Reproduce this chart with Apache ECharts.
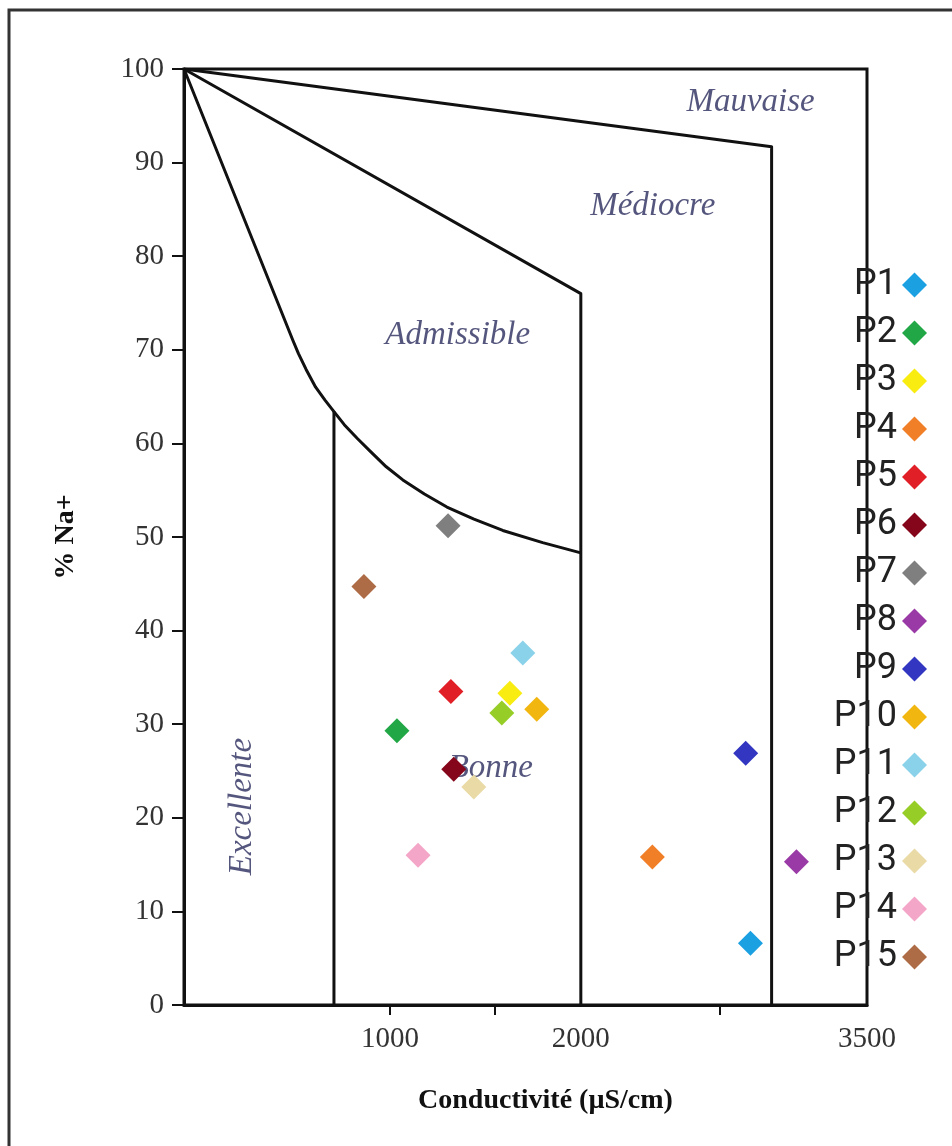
<!DOCTYPE html>
<html>
<head>
<meta charset="utf-8">
<script src="https://cdn.jsdelivr.net/npm/echarts@6/dist/echarts.min.js"></script>
<style>
  html, body { margin: 0; padding: 0; background: #ffffff; }
  #chart { width: 952px; height: 1146px; }
</style>
</head>
<body>
<div id="chart"></div>
<script>
// ---- sample data ----
const samples = ['P1','P2','P3','P4','P5','P6','P7','P8','P9','P10','P11','P12','P13','P14','P15'];
const conductivity = [2889, 1036, 1628, 2375, 1319, 1334, 1304, 3130, 2864, 1769, 1696, 1586, 1439, 1147, 863];
const sodiumPct = [6.6, 29.3, 33.3, 15.8, 33.5, 25.2, 51.2, 15.3, 26.9, 31.6, 37.6, 31.2, 23.3, 16.0, 44.7];
const sampleColors = ['#1ba0e2','#22a747','#f8ec10','#f07f28','#e01f26','#85061a','#7f7f7f','#9a3aa6',
                      '#3236c0','#f2b610','#8ad2ea','#97cd27','#eadaa6','#f4a6c8','#ae6c46'];

// ---- Wilcox class boundaries ----
const mauvaiseX = [-80, 3000, 3000];
const mauvaiseY = [100, 91.7, 0];
const mediocreX = [-80, 2000, 2000];
const mediocreY = [100, 76, 0];
const bonneX = [-80, 491, 520, 560, 610, 660, 706, 760, 830, 894, 980, 1067, 1180, 1298, 1440, 1591, 1800, 2000];
const bonneY = [100, 71, 69.6, 67.9, 66.0, 64.6, 63.4, 62.0, 60.5, 59.2, 57.5, 56.1, 54.6, 53.2, 51.9, 50.7, 49.4, 48.3];
const excellenteX = [706, 706];
const excellenteY = [63.4, 0];

// ---- zone labels ----
const zoneNames = ['Mauvaise', 'Médiocre', 'Admissible', 'Bonne', 'Excellente'];
const zoneX = [2890, 2377, 1355, 1528, 224];
const zoneY = [96.4, 85.3, 71.5, 25.3, 21.2];
const zoneRotate = [0, 0, 0, 0, 90];

// ---- axis ticks ----
const xTickValues = [1000, 1550, 2730];
const xLabelValues = [1000, 2000, 3500];
const yMin = 0, yMax = 100, yStep = 10;
const xMin = -80, xMax = 3500;

const zip = (a, b) => a.map((v, i) => [v, b[i]]);
const boundaryStyle = { color: '#111', width: 3, join: 'round' };

function boundary(xs, ys) {
  return {
    type: 'line', data: zip(xs, ys), symbol: 'none', smooth: false,
    lineStyle: boundaryStyle, silent: true, z: 2, legendHoverLink: false
  };
}

const series = [
  boundary(mauvaiseX, mauvaiseY),
  boundary(mediocreX, mediocreY),
  boundary(bonneX, bonneY),
  boundary(excellenteX, excellenteY),
  {
    type: 'scatter', symbolSize: 0, z: 3, silent: true,
    data: zoneNames.map((n, i) => ({
      value: [zoneX[i], zoneY[i]], name: n,
      label: { rotate: zoneRotate[i] }
    })),
    label: {
      show: true, position: 'inside', formatter: p => p.name,
      fontFamily: 'Liberation Serif', fontStyle: 'italic', fontSize: 33, color: '#2a2c5c'
    }
  }
];
samples.forEach((s, i) => {
  series.push({
    name: s, type: 'scatter', symbol: 'diamond', symbolSize: 25, z: 5,
    itemStyle: { color: sampleColors[i], opacity: 1 },
    data: [[conductivity[i], sodiumPct[i]]]
  });
});

const chart = echarts.init(document.getElementById('chart'), null, { renderer: 'canvas' });
chart.setOption({
  animation: false,
  backgroundColor: '#ffffff',
  graphic: [{
    type: 'rect', shape: { x: 9, y: 10, width: 1000, height: 1200 },
    style: { fill: 'none', stroke: '#333', lineWidth: 3 }, z: -1, silent: true
  }],
  grid: { left: 184, right: 85, top: 69, bottom: 141, show: true, borderColor: '#111', borderWidth: 3,
          outerBoundsMode: 'none' },
  legend: {
    data: samples, orient: 'vertical', right: 20, top: 262, align: 'right',
    icon: 'diamond', itemWidth: 25, itemHeight: 25, itemGap: 12,
    textStyle: { fontFamily: 'Roboto', fontSize: 36, color: '#222' }
  },
  xAxis: {
    type: 'value', min: xMin, max: xMax,
    name: 'Conductivité (µS/cm)', nameLocation: 'middle', nameGap: 82,
    nameTextStyle: { fontFamily: 'Liberation Serif', fontWeight: 'bold', fontSize: 28, color: '#111',
                     padding: [0, 0, 0, 40] },
    axisLine: { show: true, onZero: false, lineStyle: { color: '#111', width: 3 } },
    axisTick: { show: true, customValues: xTickValues, length: 10, lineStyle: { color: '#111', width: 2 } },
    axisLabel: { customValues: xLabelValues, formatter: v => String(v),
                 fontFamily: 'Liberation Serif', fontSize: 29, color: '#333', margin: 20 },
    splitLine: { show: false }
  },
  yAxis: {
    type: 'value', min: yMin, max: yMax, interval: yStep,
    name: '% Na+', nameLocation: 'middle', nameGap: 104, nameRotate: 90,
    nameTextStyle: { fontFamily: 'Liberation Serif', fontWeight: 'bold', fontSize: 28, color: '#111' },
    axisLine: { show: true, onZero: false, lineStyle: { color: '#111', width: 3 } },
    axisTick: { show: true, length: 12, lineStyle: { color: '#111', width: 2 } },
    axisLabel: { fontFamily: 'Liberation Serif', fontSize: 29, color: '#333', margin: 20 },
    splitLine: { show: false }
  },
  series: series
});
</script>
</body>
</html>
